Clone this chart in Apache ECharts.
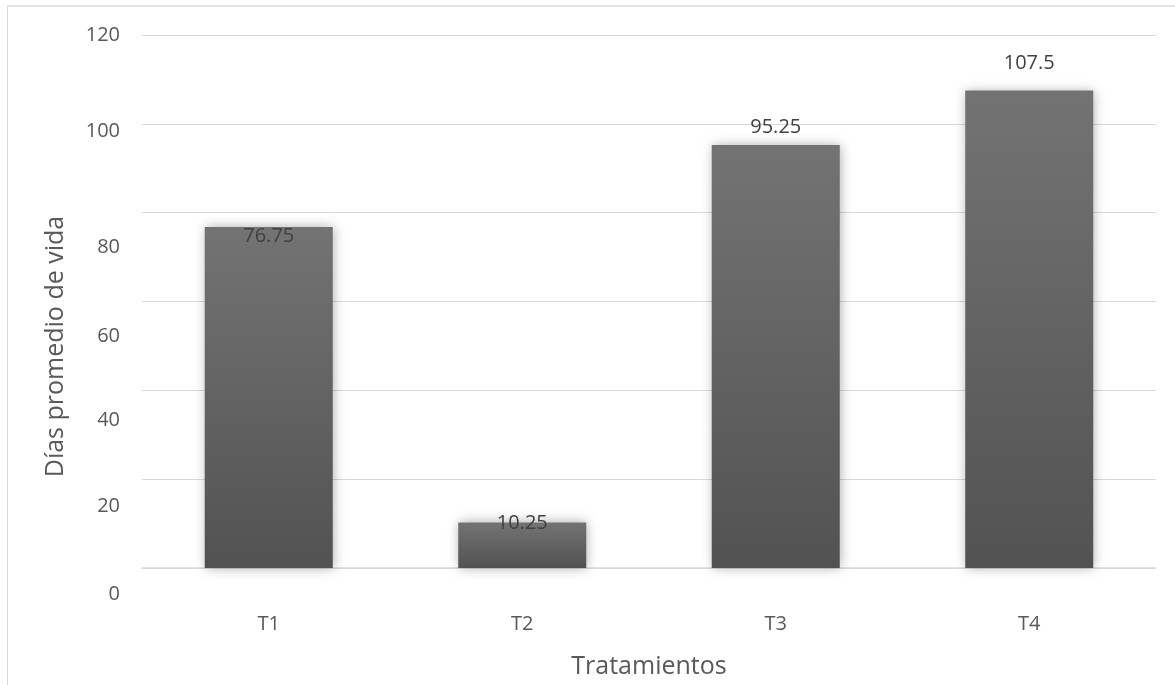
<!DOCTYPE html>
<html>
<head>
<meta charset="utf-8">
<script src="https://cdn.jsdelivr.net/npm/echarts@6/dist/echarts.min.js"></script>
<style>
  html, body { margin: 0; padding: 0; background: #ffffff; overflow: hidden; }
  #frame { position: absolute; left: 7px; top: 5px; width: 1175px; height: 690px;
           border-left: 1px solid #d9d9d9; border-top: 2px solid #e3e3e3; }
  #chart { position: absolute; left: 0; top: 0; width: 1175px; height: 685px; }
</style>
</head>
<body>
<div id="frame"></div>
<div id="chart"></div>
<script>
// Treatments and mean life span (days)
const categories = ['T1', 'T2', 'T3', 'T4'];
const meanDays = [76.75, 10.25, 95.25, 107.5];
const yTicks = [0, 20, 40, 60, 80, 100, 120];

const xTitle = 'Tratamientos';
const yTitle = 'Días promedio de vida';

// vertical nudges (px) of the value labels and of the tick labels
const valueLabelDy = [9, 1, -18, -27];
const tickLabelDy = { 0: 26, 20: 27, 40: 30, 60: 35, 80: 35, 100: 7, 120: 0 };

const FONT = '"Open Sans", "Noto Sans", sans-serif';

const tickRich = { n: { fontSize: 20, color: '#595959', fontFamily: FONT } };
yTicks.forEach(v => {
  if (tickLabelDy[v] > 0) {
    tickRich['s' + v] = { height: 2 * tickLabelDy[v], fontSize: 1 };
  }
});

const barData = meanDays.map((v, i) => ({
  value: v,
  label: { offset: [0, valueLabelDy[i]] }
}));

const chart = echarts.init(document.getElementById('chart'), null, { renderer: 'canvas' });

chart.setOption({
  backgroundColor: 'transparent',
  animation: false,
  grid: { left: 142, right: 19, top: 35, bottom: 117, containLabel: false, outerBoundsMode: 'none' },
  xAxis: {
    type: 'category',
    data: categories,
    name: xTitle,
    nameLocation: 'middle',
    nameGap: 86,
    nameTextStyle: { fontSize: 25, color: '#595959', fontFamily: FONT },
    axisLine: { show: true, lineStyle: { color: '#d9d9d9', width: 1.5 } },
    axisTick: { show: false },
    axisLabel: { fontSize: 20, color: '#595959', fontFamily: FONT, margin: 46 }
  },
  yAxis: {
    type: 'value',
    min: 0,
    max: 120,
    interval: 20,
    name: yTitle,
    nameLocation: 'middle',
    nameGap: 74,
    nameTextStyle: { fontSize: 25, color: '#595959', fontFamily: FONT, padding: [0, 90, 0, 0] },
    axisLine: { show: false },
    axisTick: { show: false },
    splitLine: { show: true, lineStyle: { color: '#d9d9d9', width: 1 } },
    axisLabel: {
      margin: 22,
      formatter: v => (tickRich['s' + v] ? '{s' + v + '| }\n{n|' + v + '}' : '{n|' + v + '}'),
      rich: tickRich
    }
  },
  series: [{
    type: 'bar',
    data: barData,
    barWidth: '50.5%',
    itemStyle: {
      color: new echarts.graphic.LinearGradient(0, 0, 0, 1, [
        { offset: 0, color: '#737373' },
        { offset: 1, color: '#525252' }
      ]),
      shadowBlur: 11,
      shadowColor: 'rgba(0,0,0,0.32)',
      shadowOffsetX: 1,
      shadowOffsetY: 0
    },
    label: {
      show: true,
      position: 'top',
      distance: 0,
      verticalAlign: 'middle',
      fontSize: 20,
      color: '#404040',
      fontFamily: FONT
    }
  }]
});
</script>
</body>
</html>
